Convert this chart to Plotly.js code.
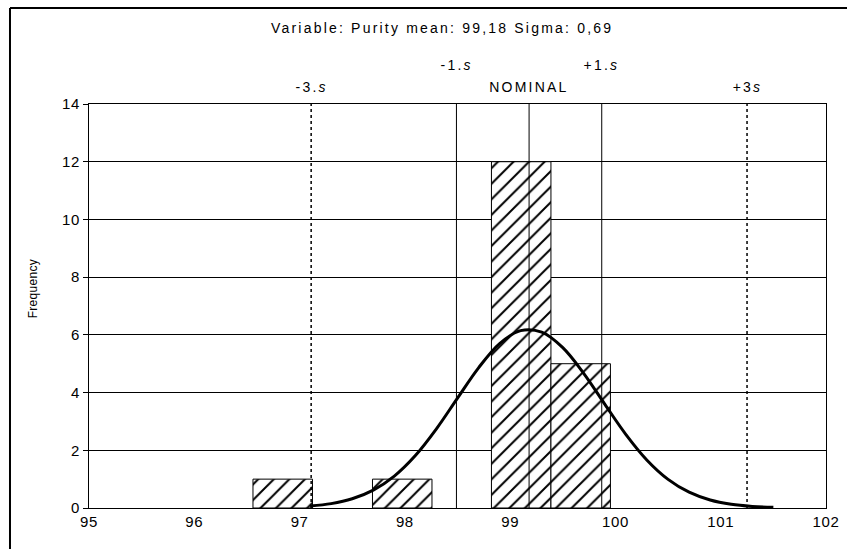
<!DOCTYPE html>
<html>
<head>
<meta charset="utf-8">
<script src="https://cdn.plot.ly/plotly-3.0.1.min.js"></script>
<style>
  html, body { margin: 0; padding: 0; background: #fff; }
  #chart { width: 847px; height: 549px; }
  /* spaced-out lettering for the header and marker labels */
  .annotation .annotation-text { letter-spacing: 2.2px; }
  .annotation[data-index="6"] .annotation-text { letter-spacing: 0.3px; }
  .ytick text, .xtick text { letter-spacing: 0.6px; }
</style>
</head>
<body>
<div id="chart"></div>
<script>
// Histogram of purity measurements
const binCenters = [96.84, 97.975, 99.105, 99.67];
const binCounts = [1, 1, 12, 5];
const binWidth = 0.565;

// Fitted normal curve (expected frequency per bin)
const curveX = [97.1, 97.3, 97.5, 97.7, 97.9, 98.1, 98.3, 98.5, 98.7, 98.9, 99.1,
                99.3, 99.5, 99.7, 99.9, 100.1, 100.3, 100.5, 100.7, 100.9, 101.1, 101.3, 101.5];
const curveY = [0.066, 0.151, 0.319, 0.620, 1.107, 1.818, 2.744, 3.807, 4.857, 5.698, 6.146,
                6.094, 5.556, 4.658, 3.590, 2.544, 1.657, 0.993, 0.547, 0.277, 0.129, 0.055, 0.022];

// Specification markers
const mean = 99.18;
const sigma = 0.69;
const markerOffsets = [-3, -1, 0, 1, 3];
const markerLabels = ['-3.<i>s</i>', '-1.<i>s</i>', 'NOMINAL', '+1.<i>s</i>', '+3<i>s</i>'];
const markerDotted = [true, false, false, false, true];
const markerHigh = [false, true, false, true, false];

const xTicks = [95, 96, 97, 98, 99, 100, 101, 102];
const yTicks = [0, 2, 4, 6, 8, 10, 12, 14];

const FONT = 'Liberation Sans, Arial, sans-serif';

const traces = [
  {
    type: 'bar',
    x: binCenters,
    y: binCounts,
    width: binWidth,
    marker: {
      color: 'white',
      line: { color: 'black', width: 1 },
      pattern: { shape: '/', fgcolor: 'black', bgcolor: 'white', size: 11, solidity: 0.18 }
    },
    hoverinfo: 'x+y'
  },
  {
    type: 'scatter',
    mode: 'lines',
    x: curveX,
    y: curveY,
    line: { color: 'black', width: 3, shape: 'spline' },
    hoverinfo: 'skip'
  }
];

const shapes = markerOffsets.map((k, i) => ({
  type: 'line',
  xref: 'x', yref: 'y',
  x0: mean + k * sigma, x1: mean + k * sigma,
  y0: 0, y1: 14,
  layer: 'above',
  line: { color: 'black', width: markerDotted[i] ? 1.5 : 1, dash: markerDotted[i] ? 'dot' : 'solid' }
}));

// outer frame (top and left edges)
shapes.push({
  type: 'line', xref: 'paper', yref: 'paper',
  x0: -0.1072, x1: 1.1, y0: 1.2376, y1: 1.2376,
  line: { color: 'black', width: 2 }
});
shapes.push({
  type: 'line', xref: 'paper', yref: 'paper',
  x0: -0.1072, x1: -0.1072, y0: 1.2376, y1: -0.2,
  line: { color: 'black', width: 2 }
});

const annotations = markerOffsets.map((k, i) => ({
  xref: 'x', yref: 'paper',
  x: mean + k * sigma,
  y: markerHigh[i] ? 1.0965 : 1.042,
  text: markerLabels[i],
  showarrow: false,
  xanchor: 'center', yanchor: 'middle',
  font: { family: FONT, size: 14, color: 'black' }
}));

annotations.push({
  xref: 'paper', yref: 'paper',
  x: 0.479, y: 1.188,
  text: 'Variable: Purity mean: 99,18 Sigma: 0,69',
  showarrow: false,
  xanchor: 'center', yanchor: 'middle',
  font: { family: FONT, size: 14, color: 'black' }
});

annotations.push({
  xref: 'paper', yref: 'paper',
  x: -0.076, y: 0.5446,
  text: 'Frequency',
  textangle: -90,
  showarrow: false,
  xanchor: 'center', yanchor: 'middle',
  font: { family: FONT, size: 12, color: 'black' }
});

const layout = {
  width: 847,
  height: 549,
  margin: { l: 89, r: 21, t: 104, b: 41, pad: 0 },
  paper_bgcolor: 'white',
  plot_bgcolor: 'white',
  showlegend: false,
  bargap: 0,
  font: { family: FONT, size: 14, color: 'black' },
  xaxis: {
    range: [95, 102],
    tickvals: xTicks,
    ticks: '',
    showgrid: false,
    zeroline: false,
    showline: true,
    mirror: true,
    linecolor: 'black',
    linewidth: 1,
    tickfont: { family: FONT, size: 15, color: 'black' }
  },
  yaxis: {
    range: [0, 14],
    tickvals: yTicks,
    ticks: 'outside',
    ticklen: 5,
    tickcolor: 'black',
    showgrid: true,
    gridcolor: 'black',
    gridwidth: 1,
    zeroline: false,
    showline: true,
    mirror: true,
    linecolor: 'black',
    linewidth: 1,
    tickfont: { family: FONT, size: 15, color: 'black' }
  },
  shapes: shapes,
  annotations: annotations
};

Plotly.newPlot('chart', traces, layout, { displayModeBar: false, staticPlot: true });
</script>
</body>
</html>
